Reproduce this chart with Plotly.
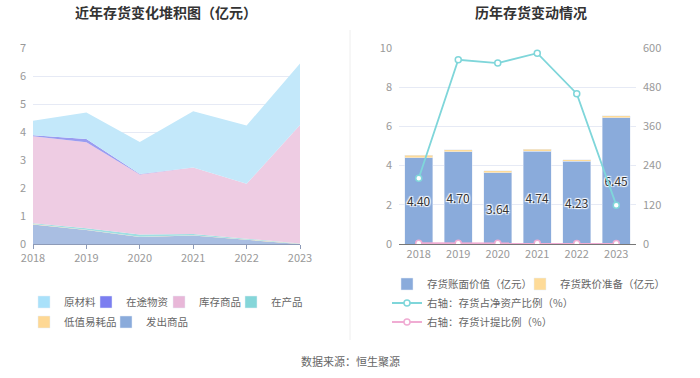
import plotly.graph_objects as go

years = ["2018", "2019", "2020", "2021", "2022", "2023"]

# Left: stacked inventory composition (亿元)
fachu = [0.70, 0.50, 0.25, 0.30, 0.15, 0.00]        # 发出商品
dizhi = [0.01, 0.01, 0.01, 0.01, 0.01, 0.01]        # 低值易耗品
zaichan = [0.03, 0.05, 0.08, 0.05, 0.03, 0.01]      # 在产品
kucun = [3.11, 3.07, 2.14, 2.37, 1.96, 4.23]        # 库存商品
zaitu = [0.03, 0.12, 0.02, 0.00, 0.00, 0.00]        # 在途物资
yuancailiao = [0.52, 0.95, 1.14, 2.01, 2.08, 2.20]  # 原材料

# Right: book value, impairment, ratios
book_value = [4.40, 4.70, 3.64, 4.74, 4.23, 6.45]
impairment = [0.12, 0.10, 0.10, 0.10, 0.07, 0.10]
ratio_net_assets = [201, 564, 554, 584, 460, 119]
ratio_provision = [2.5, 2.0, 2.6, 2.0, 1.6, 1.5]

W, H = 700, 378
def px(x): return x / W
def py(y): return 1 - y / H

fig = go.Figure()

area_series = [
    ("发出商品", fachu, "#a9bee2", "#8aabdb"),
    ("低值易耗品", dizhi, "#fde3b0", "#fed894"),
    ("在产品", zaichan, "#9fdfe2", "#85d6d9"),
    ("库存商品", kucun, "#eecce3", "#e8b7d8"),
    ("在途物资", zaitu, "#9a9cf0", "#7b7ef0"),
    ("原材料", yuancailiao, "#c3e8fa", "#a9e1fa"),
]
for name, vals, fc, lc in area_series:
    fig.add_trace(go.Scatter(
        x=years, y=vals, name=name, stackgroup="s", mode="lines",
        line=dict(width=0, color=fc), fillcolor=fc, showlegend=False,
        xaxis="x", yaxis="y", hoverinfo="x+y+name"))

# legend entries for the left chart
left_leg = [
    ("原材料", "#a9e1fa", 64, 302),
    ("在途物资", "#7b7ef0", 126, 302),
    ("库存商品", "#e8b7d8", 199, 302),
    ("在产品", "#85d6d9", 271, 302),
    ("低值易耗品", "#fed894", 64, 322),
    ("发出商品", "#8aabdb", 146, 322),
]
right_leg = [(427, 284), (560, 284), (427, 303), (427, 322)]

legend_layouts = {}
idx = 1
for name, col, tx, ty in left_leg:
    lid = "legend" if idx == 1 else f"legend{idx}"
    fig.add_trace(go.Bar(x=[None], y=[None], name=name, marker_color=col,
                         xaxis="x", yaxis="y", legend=lid, showlegend=True))
    legend_layouts[lid] = (tx, ty)
    idx += 1

fig.add_trace(go.Bar(
    x=years, y=book_value, name="存货账面价值（亿元）", marker_color="#8aabdb",
    text=[f"{v:.2f}" for v in book_value], textposition="inside",
    insidetextanchor="middle", textangle=0, constraintext="none",
    textfont=dict(color="#333", size=12,
                  shadow="1px 1px 1px #fff, -1px -1px 1px #fff, 1px -1px 1px #fff, -1px 1px 1px #fff"),
    xaxis="x2", yaxis="y2", legend=f"legend{idx}"))
legend_layouts[f"legend{idx}"] = right_leg[0]; idx += 1
fig.add_trace(go.Bar(
    x=years, y=impairment, name="存货跌价准备（亿元）", marker_color="#fedb98",
    xaxis="x2", yaxis="y2", legend=f"legend{idx}"))
legend_layouts[f"legend{idx}"] = right_leg[1]; idx += 1
fig.add_trace(go.Scatter(
    x=years, y=ratio_net_assets, name="右轴：存货占净资产比例（%）", mode="lines+markers",
    line=dict(color="#7fd6da", width=1.8),
    marker=dict(symbol="circle", size=6, color="#fff", line=dict(color="#7fd6da", width=1.5)),
    xaxis="x2", yaxis="y3", legend=f"legend{idx}"))
legend_layouts[f"legend{idx}"] = right_leg[2]; idx += 1
fig.add_trace(go.Scatter(
    x=years, y=ratio_provision, name="右轴：存货计提比例（%）", mode="lines+markers",
    line=dict(color="#f0acd3", width=1.8),
    marker=dict(symbol="circle", size=6, color="#fff", line=dict(color="#f0acd3", width=1.5)),
    xaxis="x2", yaxis="y3", legend=f"legend{idx}"))
legend_layouts[f"legend{idx}"] = right_leg[3]; idx += 1

ydom = [py(244), py(48)]
tickfont = dict(size=11, color="#999")

layout = dict(
    width=W, height=H, margin=dict(l=0, r=0, t=0, b=0, autoexpand=False),
    paper_bgcolor="#fff", plot_bgcolor="#fff",
    font=dict(family="Noto Sans CJK SC, sans-serif", color="#555"),
    barmode="stack", bargap=0.3,
    xaxis=dict(domain=[px(33), px(300)], range=[0, 5], type="category",
               showline=True, linecolor="#8d9bb8", linewidth=1,
               ticks="outside", ticklen=4, tickcolor="#8d9bb8",
               showgrid=False, tickfont=tickfont, fixedrange=True),
    yaxis=dict(domain=ydom, range=[0, 7], dtick=1, showgrid=True,
               gridcolor="#e6eaf5", zeroline=False, tickfont=tickfont,
               ticks="", ticklabelstandoff=6, fixedrange=True),
    xaxis2=dict(domain=[px(399), px(636)], type="category", anchor="y2",
                showline=True, linecolor="#777", linewidth=1, showgrid=False,
                tickfont=tickfont, fixedrange=True),
    yaxis2=dict(domain=ydom, anchor="x2", range=[0, 10], dtick=2, showgrid=True,
                gridcolor="#e6eaf5", zeroline=False, tickfont=tickfont,
                ticklabelstandoff=6, fixedrange=True),
    yaxis3=dict(overlaying="y2", side="right", anchor="x2", range=[0, 600], dtick=120,
                showgrid=False, zeroline=False, tickfont=tickfont,
                ticklabelstandoff=6, fixedrange=True),
    annotations=[
        dict(text="<b>近年存货变化堆积图（亿元）</b>", x=px(166), y=py(12), xref="paper", yref="paper",
             xanchor="center", yanchor="middle",
             showarrow=False, font=dict(size=14, color="#333")),
        dict(text="<b>历年存货变动情况</b>", x=px(531), y=py(12), xref="paper", yref="paper",
             xanchor="center", yanchor="middle",
             showarrow=False, font=dict(size=14, color="#333")),
        dict(text="数据来源：恒生聚源", x=px(350), y=py(361), xref="paper", yref="paper",
             xanchor="center", yanchor="middle",
             showarrow=False, font=dict(size=11, color="#666")),
    ],
    shapes=[dict(type="line", xref="paper", yref="paper", x0=px(350), x1=px(350),
                 y0=py(30), y1=py(340), line=dict(color="#eeeeee", width=1))],
)
for lid, (tx, ty) in legend_layouts.items():
    layout[lid] = dict(x=px(tx - 40), y=py(ty), xanchor="left", yanchor="middle",
                       orientation="h", font=dict(size=10.5, color="#666"),
                       bgcolor="rgba(0,0,0,0)", borderwidth=0, itemclick=False,
                       itemdoubleclick=False)

fig.update_layout(**layout)
fig.write_html("out.html", config={"displayModeBar": False},
               post_script="document.body.style.margin='0px';")
